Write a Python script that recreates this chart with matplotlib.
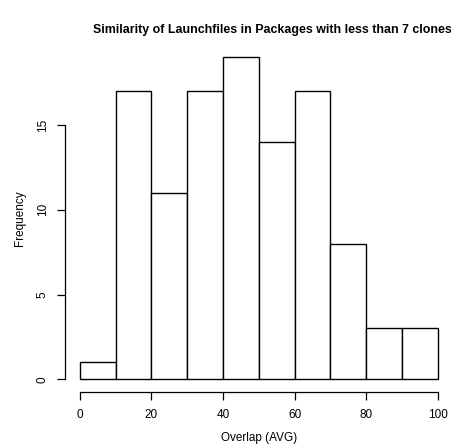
import matplotlib.pyplot as plt

plt.rcParams['font.family'] = ['Liberation Sans', 'DejaVu Sans']

bin_edges = [0, 10, 20, 30, 40, 50, 60, 70, 80, 90, 100]
counts = [1, 17, 11, 17, 19, 14, 17, 8, 3, 3]
x_ticks = [0, 20, 40, 60, 80, 100]
y_ticks = [0, 5, 10, 15]

W, H = 452, 447
fig = plt.figure(figsize=(W / 100, H / 100), dpi=100)
# plot region in pixels (R-style with 4% range extension)
left, right, top, bottom = 65.4, 452.3, 44.4, 392.2
ax = fig.add_axes([left / W, 1 - bottom / H, (right - left) / W, (bottom - top) / H])

widths = [b - a for a, b in zip(bin_edges[:-1], bin_edges[1:])]
ax.bar(bin_edges[:-1], counts, width=widths, align='edge',
       color='white', edgecolor='black', linewidth=1.0)

ax.set_xlim(-4, 104)
ax.set_ylim(-0.76, 19.76)

for s in ['top', 'right']:
    ax.spines[s].set_visible(False)
ax.spines['left'].set_bounds(0, 15)
ax.spines['bottom'].set_bounds(0, 100)
ax.spines['left'].set_linewidth(0.9)
ax.spines['bottom'].set_linewidth(0.9)

ax.set_xticks(x_ticks)
ax.set_yticks(y_ticks)
ax.set_yticklabels([str(v) for v in y_ticks], rotation=90, va='center')
ax.tick_params(axis='both', length=6, width=0.9, labelsize=8.5, pad=6)

ax.set_xlabel('Overlap (AVG)', fontsize=8.5, labelpad=8)
ax.set_ylabel('Frequency', fontsize=8.5, labelpad=8)

fig.text(272 / W, 1 - 30 / H,
         'Similarity of Launchfiles in Packages with less than 7 clones',
         ha='center', va='center', fontsize=8.9, fontweight='bold')

fig.savefig('out.png', dpi=100)
